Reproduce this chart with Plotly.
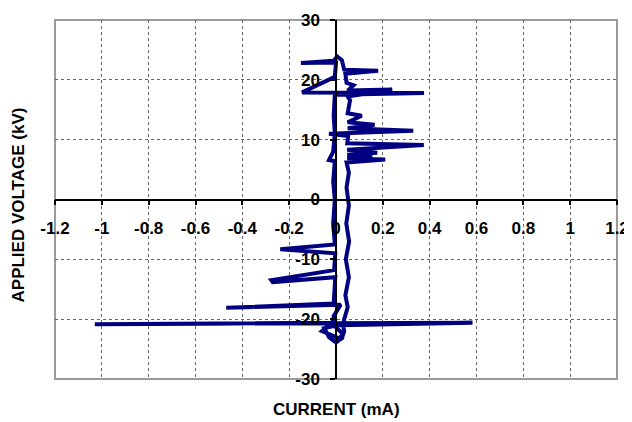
import plotly.graph_objects as go

# Current (mA) and applied voltage (kV) traced around one cycle
current_mA = [
    0.000, 0.025, 0.035, 0.030, 0.035, 0.050, 0.040, 0.055, 0.042, 0.056, 0.044, 0.055,
    0.045, 0.055, 0.045, 0.210, 0.048, 0.155, 0.048, 0.176, 0.048, 0.375, 0.048, 0.052,
    -0.030, 0.330, 0.050, 0.165, 0.050, 0.110, 0.050, 0.060, 0.050, 0.240, 0.050, 0.075,
    0.045, 0.040, 0.180, 0.035, 0.025, 0.005, -0.010,
    -0.150, 0.000, -0.005, -0.145, 0.376, -0.005, -0.010, -0.005, -0.012, -0.030, -0.005,
    -0.012, -0.005, -0.012, -0.005,
    -0.238, -0.003, -0.008, -0.276, -0.270, -0.003, -0.010, -0.469, 0.020, -0.010,
    -0.010, -1.030, 0.583, 0.010,
    -0.050, -0.030, 0.000, 0.020, -0.060, -0.020, 0.030, 0.000,
]
voltage_kV = [
    -23.8, -23.2, -22.0, -21.0, -20.0, -18.0, -16.0, -13.0, -10.0, -7.0, -4.0, -1.0,
    2.0, 4.5, 6.2, 6.7, 6.9, 7.3, 7.5, 7.8, 8.3, 9.1, 9.4, 10.6,
    11.0, 11.5, 11.9, 12.5, 12.9, 14.0, 14.4, 16.6, 17.2, 18.4, 18.2, 19.1,
    19.5, 21.0, 21.5, 21.7, 23.3, 23.9, 23.2,
    22.8, 22.9, 20.5, 17.9, 17.8, 17.5, 14.0, 11.0, 8.0, 6.6, 6.4,
    3.0, 0.0, -4.0, -7.5,
    -8.3, -9.0, -11.8, -13.5, -13.8, -13.0, -17.4, -18.1, -17.6, -19.5,
    -20.6, -20.85, -20.6, -21.0,
    -21.5, -23.0, -23.9, -23.3, -22.0, -20.6, -22.5, -23.8,
]

x_ticks = [-1.2, -1.0, -0.8, -0.6, -0.4, -0.2, 0.0, 0.2, 0.4, 0.6, 0.8, 1.0, 1.2]
x_tick_labels = ["-1.2", "-1", "-0.8", "-0.6", "-0.4", "-0.2", "0", "0.2", "0.4", "0.6", "0.8", "1", "1.2"]
y_ticks = [-30, -20, -10, 0, 10, 20, 30]
y_tick_labels = ["-30", "-20", "-10", "0", "10", "20", "30"]

FONT = "Liberation Sans, Arial, sans-serif"

fig = go.Figure()
fig.add_trace(go.Scatter(
    x=current_mA, y=voltage_kV, mode="lines",
    line=dict(color="#000080", width=4),
    showlegend=False, hoverinfo="skip",
))

axis_common = dict(
    showline=True, linecolor="black", linewidth=1.5,
    ticks="outside", ticklen=5, tickcolor="black", tickwidth=1.5,
    showgrid=True, gridcolor="#666666", griddash="dot", gridwidth=1,
    zeroline=False, automargin=False,
    tickfont=dict(family=FONT, size=17, color="black", weight="bold"),
    anchor="free", position=0.5,
)

# the page body adds an 8px offset, so the figure is 8px smaller
fig.update_layout(
    width=624, height=414,
    margin=dict(l=47, r=15, t=12, b=43),
    paper_bgcolor="white", plot_bgcolor="white",
    xaxis=dict(range=[-1.2, 1.2], tickvals=x_ticks, ticktext=x_tick_labels,
               ticklabelstandoff=8, **axis_common),
    yaxis=dict(range=[-30, 30], tickvals=y_ticks, ticktext=y_tick_labels,
               ticklabelstandoff=7, **axis_common),
    shapes=[dict(type="rect", xref="paper", yref="paper", x0=0, x1=1, y0=0, y1=1,
                 line=dict(color="#9a9a9a", width=2), layer="below")],
    annotations=[
        dict(text="CURRENT (mA)", xref="paper", yref="paper", x=0.5, y=-0.0836,
             xanchor="center", yanchor="middle", showarrow=False,
             font=dict(family=FONT, size=17, color="black", weight="bold")),
        dict(text="APPLIED VOLTAGE (kV)", xref="paper", yref="paper", x=-0.0632, y=0.4847,
             xanchor="center", yanchor="middle", showarrow=False, textangle=-90,
             font=dict(family=FONT, size=17, color="black", weight="bold")),
    ],
)

fig.write_html("out.html")
